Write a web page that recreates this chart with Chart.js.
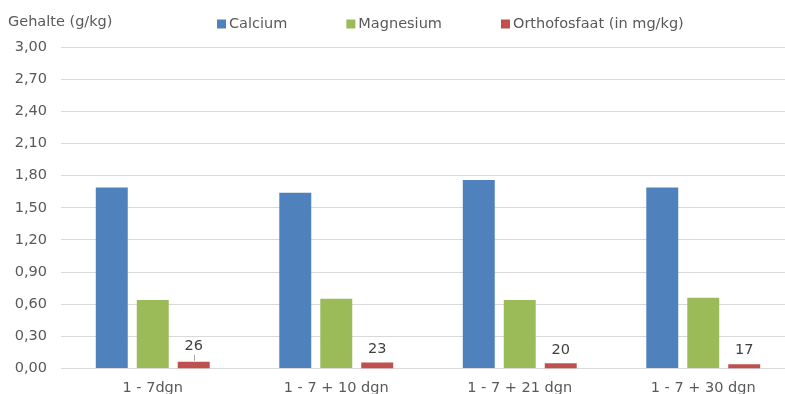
<!DOCTYPE html>
<html>
<head>
<meta charset="utf-8">
<script src="https://cdn.jsdelivr.net/npm/chart.js@4/dist/chart.umd.min.js"></script>
<style>
  html, body { margin: 0; padding: 0; background: #fff; overflow: hidden; }
  #wrap { position: relative; width: 800px; height: 394px; }
</style>
</head>
<body>
<div id="wrap"><canvas id="c" width="800" height="394"></canvas></div>
<script>
// Periods (dagen) and measured contents
const categories = ['1 - 7dgn', '1 - 7 + 10 dgn', '1 - 7 + 21 dgn', '1 - 7 + 30 dgn'];
const calcium = [1.69, 1.64, 1.76, 1.69];          // g/kg
const magnesium = [0.64, 0.65, 0.64, 0.66];        // g/kg
const orthofosfaat = [26, 23, 20, 17];             // mg/kg
const yTicks = [0, 0.3, 0.6, 0.9, 1.2, 1.5, 1.8, 2.1, 2.4, 2.7, 3.0];

const FONT = 'DejaVu Sans';
const FSIZE = 14.5;
const TEXT = '#595959';

// Axis title in the top-left corner
const yTitlePlugin = {
  id: 'yTitle',
  afterDraw(chart) {
    const ctx = chart.ctx;
    ctx.save();
    ctx.font = FSIZE + 'px "' + FONT + '"';
    ctx.fillStyle = TEXT;
    ctx.textBaseline = 'middle';
    ctx.textAlign = 'left';
    ctx.fillText('Gehalte (g/kg)', 8, 22);
    ctx.restore();
  }
};

// Legend drawn as one row of square swatches
const legendPlugin = {
  id: 'rowLegend',
  afterDraw(chart) {
    const ctx = chart.ctx;
    ctx.save();
    ctx.font = FSIZE + 'px "' + FONT + '"';
    ctx.textBaseline = 'middle';
    ctx.textAlign = 'left';
    let x = 217;
    const y = 24;
    chart.data.datasets.forEach(ds => {
      ctx.fillStyle = ds.backgroundColor;
      ctx.fillRect(x, y - 4.5, 9, 9);
      ctx.fillStyle = TEXT;
      ctx.fillText(ds.label, x + 12, y);
      x += 12 + ctx.measureText(ds.label).width + 59;
    });
    ctx.restore();
  }
};

// Value labels above the orthofosfaat bars
const valueLabelPlugin = {
  id: 'valueLabels',
  afterDatasetsDraw(chart) {
    const ctx = chart.ctx;
    const idx = 2;
    const meta = chart.getDatasetMeta(idx);
    const values = chart.data.datasets[idx].data;
    ctx.save();
    ctx.font = FSIZE + 'px "' + FONT + '"';
    ctx.fillStyle = '#404040';
    ctx.textAlign = 'center';
    ctx.textBaseline = 'middle';
    meta.data.forEach((bar, i) => {
      const lifted = i === 0;
      const ty = bar.y - (lifted ? 16 : 13.5);
      ctx.fillText(String(values[i]), bar.x, ty);
      if (lifted) {
        ctx.strokeStyle = '#A6A6A6';
        ctx.lineWidth = 1;
        ctx.beginPath();
        ctx.moveTo(Math.round(bar.x) + 0.5, ty + 9);
        ctx.lineTo(Math.round(bar.x) + 0.5, bar.y - 1);
        ctx.stroke();
      }
    });
    ctx.restore();
  }
};

new Chart(document.getElementById('c'), {
  type: 'bar',
  data: {
    labels: categories,
    datasets: [
      { label: 'Calcium', data: calcium, backgroundColor: '#4F81BD', yAxisID: 'y' },
      { label: 'Magnesium', data: magnesium, backgroundColor: '#9BBB59', yAxisID: 'y' },
      { label: 'Orthofosfaat (in mg/kg)', data: orthofosfaat, backgroundColor: '#C0504D', yAxisID: 'y2' }
    ]
  },
  options: {
    responsive: false,
    animation: false,
    events: [],
    layout: { padding: { top: 47, right: 5, left: 0, bottom: 0 } },
    datasets: { bar: { categoryPercentage: 0.67, barPercentage: 0.78 } },
    plugins: { legend: { display: false }, tooltip: { enabled: false } },
    scales: {
      x: {
        grid: { display: false, drawTicks: false },
        border: { display: false },
        ticks: { color: TEXT, font: { family: FONT, size: FSIZE }, padding: 11, maxRotation: 0 },
        afterFit(s) { s.height = 25.5; }
      },
      y: {
        min: 0, max: 3,
        grid: { color: '#D9D9D9', lineWidth: 1, drawTicks: false },
        border: { display: false },
        ticks: {
          color: TEXT, font: { family: FONT, size: FSIZE }, padding: 14,
          callback: v => v.toFixed(2).replace('.', ',')
        },
        afterBuildTicks(s) { s.ticks = yTicks.map(v => ({ value: v })); },
        afterFit(s) { s.width = 61; }
      },
      y2: {
        display: false,
        min: 0, max: 1250
      }
    }
  },
  plugins: [yTitlePlugin, legendPlugin, valueLabelPlugin]
});
</script>
</body>
</html>
